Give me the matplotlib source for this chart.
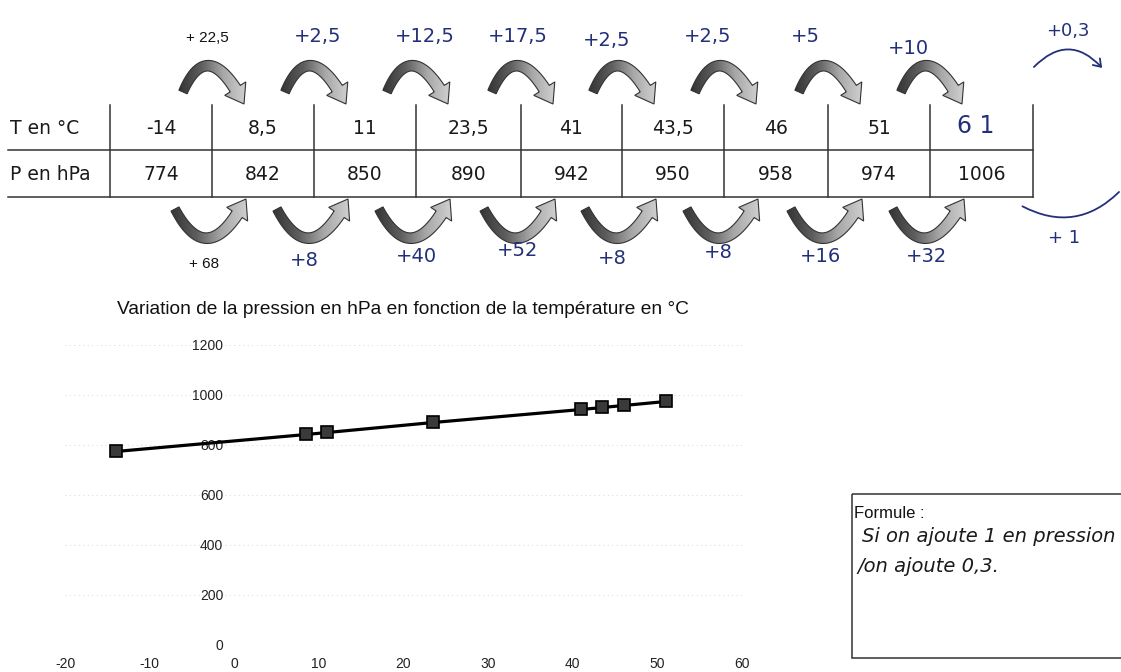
import numpy as np
import matplotlib
matplotlib.use("Agg")
import matplotlib.pyplot as plt
from matplotlib.patches import Polygon, Rectangle
from matplotlib.colors import LinearSegmentedColormap

# ---------------- data ----------------
temperatures = [-14, 8.5, 11, 23.5, 41, 43.5, 46, 51]
pressures = [774, 842, 850, 890, 942, 950, 958, 974]
extra_temperature = "6 1"      # handwritten in the table
extra_pressure = 1006
dT_labels = ["+ 22,5", "+2,5", "+12,5", "+17,5", "+2,5", "+2,5", "+5", "+10"]
dP_labels = ["+ 68", "+8", "+40", "+52", "+8", "+8", "+16", "+32"]
row_labels = ["T en °C", "P en hPa"]
x_ticks = [-20, -10, 0, 10, 20, 30, 40, 50, 60]
y_ticks = [0, 200, 400, 600, 800, 1000, 1200]
title = "Variation de la pression en hPa en fonction de la température en °C"
formula_title = "Formule :"
formula_lines = ["Si on ajoute 1 en pression", "/on ajoute 0,3."]
side_labels = ["+0,3", "+ 1"]

# ---------------- layout (pixels) ----------------
W, H = 1121, 672
col_edges = [110, 212, 314, 416, 521, 622, 724, 828, 930, 1033]
dT_pos = [(207, 38), (318, 37), (425, 37), (518, 37), (607, 40), (708, 36), (805, 36), (908, 48)]
dP_pos = [(204, 264), (304, 261), (416, 256), (518, 251), (612, 259), (718, 252), (821, 256), (927, 257)]
BLUE = "#22307a"

plt.rcParams["font.family"] = ["Liberation Sans", "DejaVu Sans"]
plt.rcParams["axes.unicode_minus"] = False

fig = plt.figure(figsize=(W / 100, H / 100), dpi=100)
fig.patch.set_facecolor("white")
ov = fig.add_axes([0, 0, 1, 1])
ov.set_axis_off()

cmap = LinearSegmentedColormap.from_list("g", ["#353535", "#5e5e5e", "#a8a8a8", "#cfcfcf"])


def grad_arrow(ax, A, B, C, w0, w1, head_w, head_len):
    t = np.linspace(0, 1, 300)[:, None]
    A, B, C = (np.asarray(v, float) for v in (A, B, C))
    P = (1 - t) ** 2 * A + 2 * (1 - t) * t * C + t ** 2 * B
    D = 2 * (1 - t) * (C - A) + 2 * t * (B - C)
    seg = np.hypot(*np.diff(P, axis=0).T)
    s = np.concatenate([[0], np.cumsum(seg)])
    k = int(np.searchsorted(s, s[-1] - head_len))
    N = np.stack([-D[:, 1], D[:, 0]], axis=1)
    N /= np.linalg.norm(N, axis=1)[:, None]
    w = np.linspace(w0, w1, k + 1)[:, None]
    left = P[:k + 1] + N[:k + 1] * w / 2
    right = P[:k + 1] - N[:k + 1] * w / 2
    base, n = P[k], N[k]
    poly = np.vstack([left, base + n * head_w / 2, B, base - n * head_w / 2, right[::-1]])
    patch = Polygon(poly, closed=True, facecolor="none", edgecolor="#333333", lw=0.8, zorder=3)
    ax.add_patch(patch)
    x0, x1 = poly[:, 0].min(), poly[:, 0].max()
    y0, y1 = poly[:, 1].min(), poly[:, 1].max()
    im = ax.imshow(np.linspace(0, 1, 64)[None, :], extent=[x0, x1, y1, y0], cmap=cmap,
                   aspect="auto", interpolation="bilinear", zorder=2)
    im.set_clip_path(patch)


# ---------------- table ----------------
line_kw = dict(color="#333333", lw=1.1)
ov.plot([8, col_edges[-1]], [150, 150], **line_kw)
ov.plot([8, col_edges[-1]], [197, 197], **line_kw)
for xe in col_edges:
    ov.plot([xe, xe], [105, 197], **line_kw)

tab_font = dict(family="DejaVu Sans", fontsize=13.5, color="#1a1a1a", va="center")
ov.text(10, 128, row_labels[0], ha="left", **tab_font)
ov.text(10, 174, row_labels[1], ha="left", **tab_font)


def fmt(v):
    return f"{v:g}".replace(".", ",")


centers = [(a + b) / 2 for a, b in zip(col_edges[:-1], col_edges[1:])]
for i, (tv, pv) in enumerate(zip(temperatures, pressures)):
    ov.text(centers[i], 128, fmt(tv), ha="center", **tab_font)
    ov.text(centers[i], 174, fmt(pv), ha="center", **tab_font)
ov.text(centers[len(temperatures)] - 6, 126, extra_temperature, ha="center", va="center",
        fontsize=17, color=BLUE, family="DejaVu Sans")
ov.text(centers[len(temperatures)], 174, fmt(extra_pressure), ha="center", **tab_font)

# ---------------- grey curved arrows ----------------
for b in col_edges[1:-1]:
    grad_arrow(ov, (b - 29, 92), (b + 32, 104), (b - 4, 34), 9, 12, 25, 18)
    grad_arrow(ov, (b - 37, 209), (b + 34, 199), (b - 4, 272), 9, 12, 25, 18)

for i, (lab, (x, y)) in enumerate(zip(dT_labels, dT_pos)):
    if i == 0:
        ov.text(x, y, lab, ha="center", va="center", fontsize=11, color="#111111")
    else:
        ov.text(x, y, lab, ha="center", va="center", fontsize=14, color=BLUE, family="DejaVu Sans")
for i, (lab, (x, y)) in enumerate(zip(dP_labels, dP_pos)):
    if i == 0:
        ov.text(x, y, lab, ha="center", va="center", fontsize=11, color="#111111")
    else:
        ov.text(x, y, lab, ha="center", va="center", fontsize=14, color=BLUE, family="DejaVu Sans")

# right-hand handwritten arcs
ov.annotate("", xy=(1104, 70), xytext=(1032, 69),
            arrowprops=dict(arrowstyle="->,head_length=0.5,head_width=0.35", color=BLUE, lw=1.3,
                            connectionstyle="arc3,rad=-0.55"))
ov.text(1068, 31, side_labels[0], ha="center", va="center", fontsize=13, color=BLUE, family="DejaVu Sans")
ov.annotate("", xy=(1121, 190), xytext=(1020, 205),
            arrowprops=dict(arrowstyle="-", color=BLUE, lw=1.3, connectionstyle="arc3,rad=0.38"))
ov.text(1064, 238, side_labels[1], ha="center", va="center", fontsize=13, color=BLUE, family="DejaVu Sans")

# ---------------- chart ----------------
ov.text(403, 309, title, ha="center", va="center", fontsize=13.8, color="#111111")

ax = fig.add_axes([65 / W, (H - 645) / H, 677 / W, 300 / H])
ax.patch.set_alpha(0)
ax.set_xlim(-20, 60)
ax.set_ylim(0, 1200)
for s in ax.spines.values():
    s.set_visible(False)
ax.spines["left"].set_position(("data", 0))
ax.set_xticks(x_ticks)
ax.set_yticks(y_ticks)
ax.tick_params(length=0, labelsize=10, colors="#222222")
ax.tick_params(axis="y", pad=8)
ax.tick_params(axis="x", pad=9)
ax.yaxis.grid(True, color="#dddddd", ls=(0, (1, 3)), lw=0.8)
ax.set_axisbelow(True)
ax.plot(temperatures, pressures, color="black", lw=2.3, marker="s", ms=8,
        mfc="#3a3a3a", mec="black", mew=1.2, clip_on=False, zorder=3)

# ---------------- formula box ----------------
ov.add_patch(Rectangle((852, 494), 400, 164, facecolor="none", edgecolor="#333333", lw=1.1))
ov.text(854, 513, formula_title, ha="left", va="center", fontsize=12, color="#111111")
ov.text(862, 537, formula_lines[0], ha="left", va="center", fontsize=14, color="#1a1a1a",
        family="DejaVu Sans", style="italic")
ov.text(857, 566, formula_lines[1], ha="left", va="center", fontsize=14, color="#1a1a1a",
        family="DejaVu Sans", style="italic")

ov.set_xlim(0, W)
ov.set_ylim(H, 0)

fig.savefig("out.png", dpi=100, facecolor="white")
